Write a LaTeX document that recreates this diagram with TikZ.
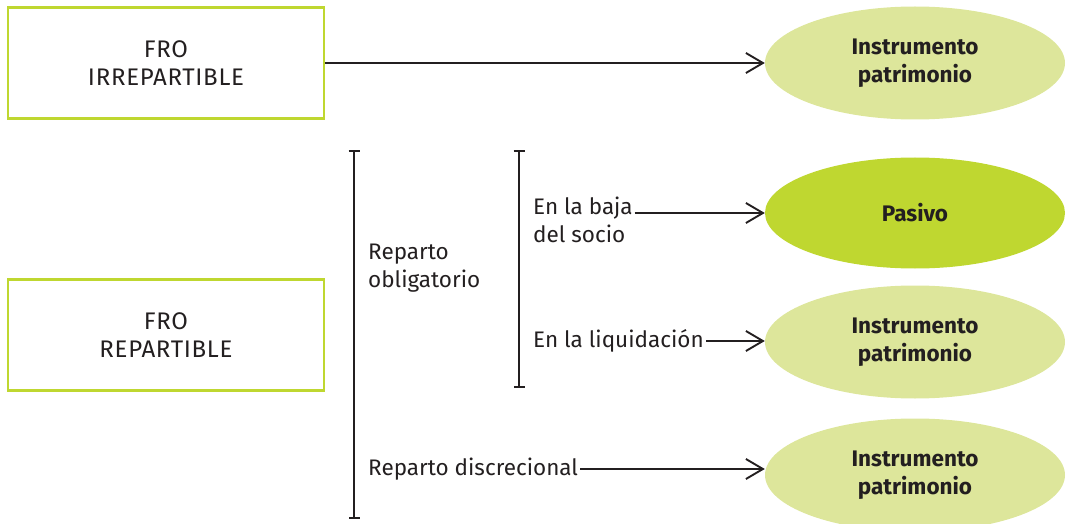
\documentclass[tikz,border=0pt]{standalone}
\usepackage{fontspec}
\setmainfont{Fira Sans}
\usetikzlibrary{shapes.geometric, arrows.meta}
\definecolor{lime}{HTML}{BFD730}
\definecolor{limelight}{HTML}{DDE69B}
\definecolor{ink}{HTML}{231F20}
\newcommand{\diagfont}{\fontsize{22.5}{28}\selectfont}
\tikzstyle{fro} = [rectangle, minimum width=316pt, minimum height=111pt, text centered, align=center, draw=lime, line width=2.6pt, font=\fontsize{24}{28}\selectfont\addfontfeatures{LetterSpace=3}]
\tikzstyle{result} = [ellipse, minimum width=300pt, minimum height=113pt, text centered, align=center, fill=limelight, font=\diagfont\bfseries]
\tikzstyle{caseText} = [align=left, inner sep=2pt, anchor=west]
\tikzstyle{arrow} = [draw=ink, line width=1.9pt, -{Straight Barb[length=17pt, width=20pt, line width=1.9pt]}]
\tikzstyle{bracket} = [draw=ink, line width=1.9pt, {Bar[width=11pt]}-{Bar[width=11pt]}]

\begin{document}
\begin{tikzpicture}[x=1pt, y=-1pt, node distance=150pt, text=ink, font=\diagfont]
\useasboundingbox (0,0) rectangle (1066,524);

% Nodes
\node (irr) [fro] at (166,63) {FRO\\IRREPARTIBLE};
\node (rep) [fro, below of=irr, yshift=-122pt] {FRO\\REPARTIBLE};
\node (inst1) [result] at (915,63) {Instrumento\\patrimonio};
\node (pasivo) [result, fill=lime, minimum height=111pt, below of=inst1] {Pasivo};
\node (inst2) [result, below of=pasivo, yshift=21pt] {Instrumento\\patrimonio};
\node (inst3) [result, below of=inst2, yshift=17pt] {Instrumento\\patrimonio};

\node (oblig) [caseText] at (366,268) {Reparto\\obligatorio};
\node (baja) [caseText] at (531,220) {En la baja\\del socio};
\node (liq) [caseText] at (531,341) {En la liquidación};
\node (disc) [caseText] at (366,469) {Reparto discrecional};

% Brackets
\coordinate (outerTop) at (354,150);
\coordinate (outerBot) at (354,519);
\coordinate (innerTop) at (519,150);
\coordinate (innerBot) at (519,388);
\draw [bracket] (outerTop) -- (outerBot);
\draw [bracket] (innerTop) -- (innerBot);

% Arrows
\draw [arrow] (irr.east) -- (inst1.west);
\draw [arrow] (baja.east |- pasivo.west) -- (pasivo.west);
\draw [arrow] (liq.east) -- (liq.east -| inst2.west);
\draw [arrow] (disc.east) -- (disc.east -| inst3.west);

\end{tikzpicture}
\end{document}
